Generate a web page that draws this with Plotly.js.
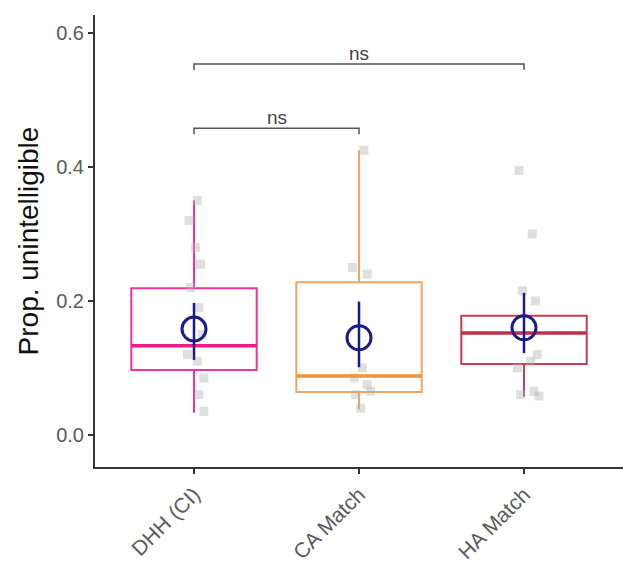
<!DOCTYPE html>
<html>
<head>
<meta charset="utf-8">
<script src="https://cdn.plot.ly/plotly-3.0.1.min.js"></script>
<style>html,body{margin:0;padding:0;background:#fff;}#chart{width:623px;height:576px;}</style>
</head>
<body>
<div id="chart"></div>
<script>
// ---- data ----
var categories = ["DHH (CI)", "CA Match", "HA Match"];
var catPos = [1, 2, 3];
var q1 = [0.097, 0.064, 0.106];
var median = [0.133, 0.088, 0.152];
var q3 = [0.219, 0.228, 0.178];
var lowerFence = [0.033, 0.038, 0.057];
var upperFence = [0.350, 0.425, 0.212];
var means = [0.158, 0.145, 0.160];
var ciLow = [0.112, 0.101, 0.122];
var ciHigh = [0.197, 0.199, 0.212];
var boxColors = ["#F2339F", "#F5A561", "#C73B55"];
var medianColors = ["#EE1C8E", "#F3913A", "#C22F4C"];

var ptsDHH = [0.350, 0.320, 0.280, 0.255, 0.220, 0.190, 0.150, 0.120, 0.110, 0.085, 0.060, 0.035];
var jitDHH = [0.02, -0.03, 0.01, 0.04, -0.02, 0.03, 0.05, -0.04, 0.02, 0.06, 0.03, 0.06];
var ptsCA = [0.425, 0.250, 0.240, 0.100, 0.085, 0.075, 0.065, 0.060, 0.040];
var jitCA = [0.03, -0.04, 0.05, 0.02, -0.03, 0.05, 0.07, -0.02, 0.01];
var ptsHA = [0.395, 0.300, 0.215, 0.200, 0.120, 0.110, 0.100, 0.065, 0.060, 0.058];
var jitHA = [-0.03, 0.05, -0.01, 0.07, 0.08, 0.04, -0.04, 0.06, -0.02, 0.09];

var brackets = [ {from: 1, to: 3, y: 0.554, label: "ns"}, {from: 1, to: 2, y: 0.458, label: "ns"} ];

var yTicks = [0.0, 0.2, 0.4, 0.6];
var yTickText = ["0.0", "0.2", "0.4", "0.6"];

// ---- traces ----
var traces = [];
var ptsAll = [ptsDHH, ptsCA, ptsHA];
var jitAll = [jitDHH, jitCA, jitHA];
for (var g = 0; g < 3; g++) {
  traces.push({
    type: "scatter", mode: "markers",
    x: ptsAll[g].map(function (v, i) { return catPos[g] + jitAll[g][i]; }),
    y: ptsAll[g],
    marker: {symbol: "square", size: 9, color: "rgba(175,175,175,0.4)", line: {width: 0}},
    hoverinfo: "skip", showlegend: false
  });
}
for (var g = 0; g < 3; g++) {
  traces.push({
    type: "box", x: [catPos[g]],
    q1: [q1[g]], median: [median[g]], q3: [q3[g]],
    lowerfence: [lowerFence[g]], upperfence: [upperFence[g]],
    width: 0.76, whiskerwidth: 0,
    fillcolor: "rgba(0,0,0,0)",
    line: {color: boxColors[g], width: 2},
    showlegend: false, hoverinfo: "skip"
  });
  traces.push({
    type: "scatter", mode: "lines",
    x: [catPos[g] - 0.38, catPos[g] + 0.38], y: [median[g], median[g]],
    line: {color: medianColors[g], width: 3.5},
    showlegend: false, hoverinfo: "skip"
  });
}
traces.push({
  type: "scatter", mode: "markers",
  x: catPos, y: means,
  error_y: {type: "data", symmetric: false,
    array: ciHigh.map(function (v, i) { return v - means[i]; }),
    arrayminus: means.map(function (v, i) { return v - ciLow[i]; }),
    color: "#1B1B8A", thickness: 2.5, width: 0},
  marker: {symbol: "circle-open", size: 24, color: "#1B1B8A", line: {width: 3, color: "#1B1B8A"}},
  showlegend: false, hoverinfo: "skip"
});
var annotations = [];
brackets.forEach(function (b) {
  traces.push({
    type: "scatter", mode: "lines",
    x: [b.from, b.from, b.to, b.to],
    y: [b.y - 0.009, b.y, b.y, b.y - 0.009],
    line: {color: "#555555", width: 1.5},
    showlegend: false, hoverinfo: "skip"
  });
  annotations.push({
    x: (b.from + b.to) / 2, y: b.y, xref: "x", yref: "y",
    text: b.label, showarrow: false, yanchor: "bottom", yshift: -2,
    font: {family: "Liberation Sans, Arial, sans-serif", size: 19, color: "#444444"}
  });
});

var layout = {
  width: 623, height: 576,
  margin: {l: 95, r: 0, t: 15, b: 109},
  paper_bgcolor: "#ffffff", plot_bgcolor: "#ffffff",
  showlegend: false,
  font: {family: "Liberation Sans, Arial, sans-serif"},
  xaxis: {
    range: [0.4, 3.6], tickmode: "array", tickvals: catPos, ticktext: categories,
    tickangle: -45, ticks: "outside", ticklen: 5, tickwidth: 1.5, tickcolor: "#333333",
    showline: true, linecolor: "#333333", linewidth: 2, showgrid: false, zeroline: false,
    tickfont: {size: 21, color: "#5a5a5a"}
  },
  yaxis: {
    range: [-0.048, 0.627], tickmode: "array", tickvals: yTicks, ticktext: yTickText,
    ticks: "outside", ticklen: 5, tickwidth: 1.5, tickcolor: "#333333",
    showline: true, linecolor: "#333333", linewidth: 2, showgrid: false, zeroline: false,
    tickfont: {size: 20, color: "#5a5a5a"},
    title: {text: "Prop. unintelligible", font: {size: 28, color: "#111111"}, standoff: 9}
  },
  annotations: annotations
};
Plotly.newPlot("chart", traces, layout, {staticPlot: true, displayModeBar: false});
</script>
</body>
</html>
